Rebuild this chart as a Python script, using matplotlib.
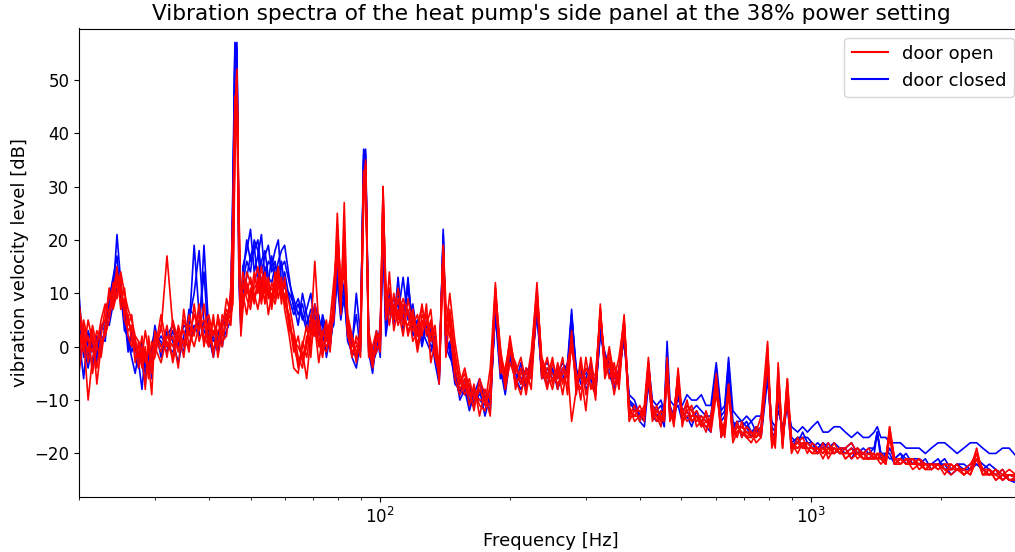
import matplotlib
matplotlib.use("Agg")
import matplotlib.pyplot as plt
from matplotlib.lines import Line2D

# Frequency grid [Hz]
freq = [20, 20.5, 21, 21.5, 22, 22.5, 23, 23.5, 24, 24.5, 25, 25.5, 26, 26.5, 27, 27.5, 28, 28.5, 29, 29.5,
        30, 31, 32, 33, 34, 35, 36, 37, 38, 39, 40, 41, 42, 43, 44, 45,
        45.5, 46, 46.5, 47, 47.5, 48, 49, 50, 51, 52, 53, 54, 55, 56, 57, 58, 59, 60, 61.5, 63, 64.5, 66,
        67.5, 69, 70.5, 72, 73.5, 75, 76.5, 78, 79.5, 81, 82.5, 84, 86, 88, 90, 91.5, 92.5, 94, 96, 98,
        100, 101.5, 103, 105, 107.5, 110, 113, 116, 119, 122, 125, 128, 131, 134, 137, 140, 142, 145, 149, 153,
        157, 161, 165, 170, 175, 180, 185, 190, 195, 200, 206, 212, 218, 224, 231, 237, 244, 251, 258, 265,
        272, 278, 285, 292, 300, 308, 316, 324, 332, 340, 349, 358, 368, 378, 389,
        400, 410, 419, 428, 438, 448, 456, 463, 470, 480, 491, 502, 515, 528, 542, 556, 570, 585, 602, 618,
        630, 643, 658, 673, 690, 708, 726, 745, 765, 792, 810, 825, 838, 858, 880, 900, 930, 955, 980, 1005,
        1035, 1065, 1095, 1130, 1165, 1200, 1240, 1280, 1320, 1360, 1400, 1423, 1450, 1490, 1520, 1560, 1610, 1660, 1720, 1780,
        1840, 1900, 1970, 2040, 2110, 2180, 2260, 2340, 2420, 2500, 2590, 2680, 2780, 2880, 3100]

# door open (red) spectra [dB]
open_1 = [3, -1, 5, 1, -4, 2, 7, 9, 11, 14, 10, 8, 5, 3, 1, -2, 2, -3, 0, -5, 1, 3, 17, 4, -1, 5, 2, 6, 3, 8, 1, 5, 0, 6, 4, 9,
          20, 44, 52, 18, 4, 8, 12, 9, 14, 10, 13, 8, 11, 7, 12, 15, 9, 10, 5, -1, 2, -3, 0, 6, 3, 1, -2, 4, 0, 8, 25, 10, 14, 4, 1, -2, 3, 30, 35, 1, -3, 2,
          2, 30, 8, 11, 5, 9, 4, 7, 1, 3, 8, 2, 5, -2, -5, 19, 3, 10, 1, -5, -8, -6, -10, -7, -11, -4, 12, -3, -6, 2,
          -5, -2, -7, -1, 11, -3, -6, -2, -8, -4, -6, 3, -9, -3, -7, -4, -10, 7, -5, 0, -6, -2, 5, -11, -14,
          -13, -11, -2, -12, -14, -12, -13, -2, -12, -14, -4, -13, -10, -14, -13, -15, -12, -15, -5, -16,
          -14, -7, -16, -15, -16, -17, -18, -16, -13, 1, -17, -18, -3, -18, -6, -19, -18, -17, -19, -19,
          -20, -19, -20, -18, -20, -19, -18, -20, -21, -20, -21, -20, -21, -22, -15, -21, -22, -21, -22, -22,
          -22, -23, -22, -23, -23, -22, -24, -23, -19, -24, -24, -23, -25, -24, -25]
open_2 = [-5, 2, -10, -2, 1, 4, 5, 10, 8, 12, 11, 6, 6, 1, -1, 0, -4, -1, -6, -2, 0, -3, 2, 0, 3, -2, 6, 2, 8, 0, 5, -1, 3, 4, 7, 5,
          12, 38, 49, 22, 8, 10, 6, 11, 8, 13, 9, 12, 6, 10, 8, 11, 13, 7, 2, -4, -5, 1, -2, 3, 16, 4, 0, -1, 3, 5, 18, 6, 27, 3, -1, 0, 1, 27, 33, -2, 0, 3,
          -1, 28, 12, 6, 8, 4, 7, 3, 5, -1, 4, 6, 1, 3, -7, 17, -2, 6, -4, -8, -6, -11, -7, -13, -8, -10, 10, 0, -8, -3,
          -6, -9, -4, -8, 9, -6, -2, -7, -4, -9, -3, 1, -5, -10, -2, -8, -6, 6, -2, -6, -3, -8, 4, -14, -12,
          -12, -14, -4, -11, -13, -15, -11, -4, -14, -12, -6, -14, -12, -11, -15, -14, -16, -13, -7, -15,
          -17, -9, -15, -17, -14, -17, -16, -18, -17, -3, -18, -16, -6, -19, -8, -18, -20, -18, -19, -20,
          -19, -21, -19, -20, -19, -21, -20, -19, -21, -21, -21, -20, -20, -22, -17, -22, -21, -22, -21, -22,
          -23, -22, -23, -22, -22, -23, -23, -24, -21, -24, -23, -25, -24, -25, -25]
open_3 = [6, 0, 2, -5, 0, 5, 8, 6, 12, 9, 13, 5, 3, 4, -3, 1, -1, -8, 2, -3, -2, 4, -2, 5, 1, 3, -1, 8, 1, 4, 6, 2, 5, 1, 2, 11,
          25, 47, 45, 14, 2, 7, 14, 12, 10, 7, 11, 14, 9, 12, 10, 13, 10, 12, 8, 3, -2, -4, 2, 0, 4, -3, 2, 5, -1, 10, 20, 8, 19, 6, 2, -3, 4, 33, 31, 0, -4, 1,
          3, 26, 5, 14, 3, 7, 2, 9, 4, 6, 2, 8, -3, 1, -4, 18, 5, 2, -2, -7, -4, -8, -12, -6, -9, -13, 11, -5, -4, 1,
          -8, -4, -9, -3, 12, -4, -8, -3, -6, -2, -9, 2, -7, -5, -12, -2, -8, 8, -6, -3, -9, -4, 6, -12, -13,
          -11, -13, -6, -14, -12, -13, -14, -3, -11, -15, -8, -12, -14, -13, -12, -14, -13, -16, -9, -14,
          -16, -8, -17, -14, -17, -15, -16, -17, -16, -2, -16, -19, -8, -17, -10, -20, -17, -19, -18, -19,
          -20, -18, -21, -19, -20, -20, -19, -21, -20, -21, -20, -21, -22, -21, -16, -22, -21, -22, -22, -21,
          -23, -22, -22, -23, -23, -22, -24, -23, -20, -23, -24, -23, -24, -24, -24]
open_4 = [0, 4, -3, 3, -7, 0, 3, 7, 9, 15, 7, 9, 2, 0, 2, -4, 0, -2, -3, -9, 3, 0, 1, -2, 4, 0, 4, 3, 5, 2, 0, 6, -2, 3, 9, 6,
          8, 35, 50, 26, 6, 12, 9, 7, 12, 15, 10, 9, 13, 8, 14, 9, 12, 8, 6, 0, -3, -1, -6, 2, 5, 0, 3, 1, 4, 7, 22, 12, 16, 2, 0, 1, -2, 28, 34, 3, -1, 0,
          0, 30, 9, 4, 10, 5, 8, 2, 6, 0, 6, 4, 7, -1, -3, 19, 8, 4, -6, -9, -7, -9, -8, -11, -12, -7, 9, -2, -7, -1,
          -3, -7, -6, -5, 10, -2, -5, -8, -3, -7, -4, -14, -8, -2, -9, -5, -7, 7, -4, -1, -5, -7, 5, -13, -11,
          -14, -12, -3, -13, -11, -14, -12, -5, -13, -13, -5, -15, -11, -12, -14, -13, -14, -14, -6, -17,
          -15, -7, -18, -16, -15, -16, -17, -15, -16, 0, -19, -17, -4, -18, -7, -19, -19, -18, -20, -18,
          -19, -20, -18, -20, -19, -19, -21, -20, -20, -19, -21, -20, -21, -21, -16, -21, -22, -21, -21, -23,
          -22, -23, -22, -24, -22, -23, -23, -24, -21, -23, -23, -25, -24, -23, -25]
open_5 = [8, 2, -1, 4, 0, -2, 4, 11, 7, 10, 14, 10, 7, 5, 2, 1, -3, 0, -5, 1, -1, 6, 0, 2, -4, 7, 0, 3, 6, 1, 4, -2, 6, 2, 5, 8,
          15, 40, 48, 20, 5, 14, 10, 13, 9, 11, 15, 10, 12, 9, 11, 14, 8, 13, 3, 2, -4, 0, 4, -2, 8, 2, -1, 2, 5, 12, 19, 9, 22, 5, 2, -1, 0, 31, 32, 2, -2, -1,
          1, 29, 10, 8, 6, 11, 5, 4, 7, 2, 5, 3, 4, 0, -6, 18, 2, 5, -3, -6, -9, -7, -9, -10, -10, -8, 11, -1, -5, 0,
          -7, -5, -5, -6, 10, -5, -4, -5, -7, -5, -5, 0, -6, -8, -4, -6, -5, 6, -3, -4, -4, -6, 5, -12, -12,
          -12, -13, -3, -12, -13, -14, -13, -3, -13, -13, -5, -14, -13, -13, -13, -14, -15, -14, -6, -15,
          -15, -8, -16, -16, -15, -16, -16, -17, -15, -1, -17, -17, -5, -18, -6, -18, -19, -18, -18, -19,
          -19, -20, -19, -19, -20, -20, -20, -19, -20, -20, -20, -21, -20, -21, -15, -21, -21, -22, -22, -21,
          -22, -22, -23, -22, -23, -23, -23, -22, -20, -23, -24, -24, -23, -25, -24]
open_6 = [-2, 5, 1, -1, 3, 1, 2, 5, 10, 13, 8, 11, 4, 6, 0, -1, -2, 3, -1, -2, 2, -1, 4, -3, 2, 1, 3, 0, 4, 5, 0, 3, 2, 0, 6, 4,
          10, 42, 51, 24, 9, 9, 11, 8, 11, 12, 8, 13, 10, 11, 9, 12, 11, 9, 4, 1, 0, -2, 1, 4, 2, 5, 1, 0, 2, 6, 23, 11, 17, 3, -2, 2, 0, 29, 34, -1, -2, 1,
          1, 27, 7, 9, 7, 6, 9, 6, 3, 4, 7, 5, 2, 4, -5, 18, 4, 7, -1, -7, -5, -9, -11, -8, -10, -11, 10, -4, -5, 1,
          -4, -6, -8, -4, 10, -3, -7, -6, -5, -6, -7, 1, -7, -4, -6, -7, -9, 7, -4, -2, -7, -5, 4, -13, -13,
          -13, -12, -4, -13, -12, -13, -14, -4, -12, -14, -6, -13, -12, -14, -13, -15, -14, -15, -7, -16,
          -16, -8, -17, -15, -16, -17, -17, -16, -17, -1, -18, -17, -6, -19, -8, -19, -18, -19, -19, -20,
          -20, -19, -20, -20, -19, -21, -20, -20, -21, -21, -21, -21, -21, -22, -16, -22, -22, -21, -23, -22,
          -23, -23, -22, -23, -24, -23, -24, -23, -20, -24, -23, -24, -25, -24, -24]

# door closed (blue) spectra [dB]
closed_1 = [10, -2, 1, -4, 2, -1, 4, 6, 10, 21, 12, 5, 1, -2, -5, -1, -3, -7, 0, -6, 2, 1, -1, 3, 0, 4, 3, 19, 6, 3, 1, 2, -1, 4, 5, 8,
            30, 57, 55, 12, 3, 15, 18, 22, 14, 17, 21, 13, 16, 15, 18, 20, 12, 14, 9, 6, 8, 5, 7, 10, 4, 2, 6, 3, 1, 5, 15, 7, 12, 3, -2, -4, 1, 37, 36, -1, -5, 2,
            1, 22, 6, 9, 4, 13, 3, 13, 2, 4, 1, 5, 3, -3, -7, 22, 0, -2, -4, -10, -8, -12, -9, -6, -10, -12, 8, -4, -9, -2,
            -6, -8, -6, -4, 6, -5, -7, -4, -8, -5, -3, 7, -6, -4, -8, -6, -9, 3, -3, -5, -8, -4, 1, -10, -12,
            -12, -13, -5, -12, -13, -12, -14, -4, -12, -14, -9, -13, -12, -14, -13, -13, -14, -14, -6, -14,
            -13, -5, -15, -14, -14, -13, -14, -13, -13, -5, -14, -15, -12, -15, -11, -15, -16, -15, -16, -15,
            -14, -16, -16, -15, -15, -16, -17, -16, -17, -17, -16, -15, -17, -17, -18, -18, -18, -19, -19, -19,
            -20, -19, -18, -18, -19, -20, -19, -18, -18, -19, -20, -20, -19, -19, -22]
closed_2 = [2, -6, 3, 0, -3, 2, 1, 9, 13, 17, 8, 6, -1, 2, 0, -3, -8, -1, -4, -1, 4, -2, 3, 1, -3, 2, 5, 10, 18, 4, 2, -2, 3, 0, 6, 7,
            22, 56, 57, 16, 5, 10, 13, 17, 19, 12, 16, 18, 13, 12, 15, 14, 16, 11, 10, 8, 4, 10, 6, 3, 8, 5, 4, -2, 2, 8, 12, 5, 10, 5, 0, 10, 2, 35, 37, 2, -3, -1,
            4, 20, 2, 7, 9, 6, 13, 5, 8, 2, 3, 1, -1, 2, -5, 21, -1, 1, -7, -8, -9, -7, -11, -8, -13, -9, 6, -6, -5, -1,
            -7, -3, -8, -2, 7, -6, -4, -6, -5, -3, -5, 6, -4, -7, -6, -3, -8, 2, -1, -4, -6, -5, 2, -9, -10,
            -13, -12, -3, -10, -11, -10, -12, 1, -10, -11, -10, -11, -9, -10, -10, -9, -11, -11, -3, -12,
            -11, -2, -12, -13, -14, -15, -14, -16, -15, -4, -17, -16, -8, -18, -9, -17, -18, -16, -18, -19,
            -18, -19, -18, -20, -19, -19, -18, -20, -20, -19, -19, -16, -20, -21, -19, -21, -20, -21, -22, -21,
            -22, -22, -21, -23, -23, -22, -22, -23, -21, -22, -23, -24, -23, -25, -26]
closed_3 = [-3, 1, -2, 2, -1, 3, 5, 4, 8, 11, 10, 3, 2, -1, 1, -2, 1, -4, -2, -3, 0, 2, 0, -1, 2, 1, 0, 4, 2, 19, 3, 1, 2, 1, 3, 5,
            28, 53, 56, 20, 7, 12, 16, 14, 20, 18, 11, 15, 12, 17, 13, 16, 18, 19, 13, 7, 9, 6, 3, 5, 2, 6, 1, 4, 0, 6, 14, 9, 11, 1, -1, -2, 3, 34, 35, 0, -2, 3,
            -2, 24, 4, 10, 6, 8, 5, 11, 3, 5, 0, 4, 2, 0, -6, 20, 1, 0, -5, -9, -6, -10, -10, -9, -8, -11, 7, -3, -6, 0,
            -4, -6, -5, -6, 8, -4, -3, -5, -7, -6, -4, 5, -5, -6, -5, -4, -7, 4, -2, -3, -7, -6, 3, -11, -11,
            -14, -15, -7, -13, -14, -13, -15, -2, -13, -12, -11, -14, -13, -15, -12, -14, -15, -16, -4, -17,
            -15, -4, -16, -14, -17, -15, -17, -15, -17, -6, -16, -17, -9, -17, -11, -19, -17, -19, -18, -18,
            -20, -18, -19, -19, -20, -19, -21, -19, -20, -21, -20, -16, -21, -20, -20, -22, -21, -20, -22, -22,
            -21, -23, -22, -22, -24, -23, -23, -22, -22, -23, -22, -23, -25, -24, -25]
closed_4 = [4, 0, -4, 1, -2, 4, 3, 7, 12, 15, 9, 8, 0, 3, -2, -4, -1, -5, -3, 0, 3, 0, 2, 4, 1, -1, 7, 6, 4, 14, 0, 3, 1, 5, 4, 10,
            25, 55, 54, 18, 4, 13, 20, 16, 18, 20, 14, 17, 19, 14, 16, 12, 15, 16, 12, 9, 6, 8, 4, 7, 6, 3, 5, 1, 3, 4, 13, 6, 9, 2, 1, 6, -1, 36, 34, 1, -4, 0,
            2, 23, 5, 8, 7, 10, 6, 12, 4, 3, 2, 3, 0, 1, -6, 21, 2, -1, -6, -9, -7, -11, -8, -10, -11, -10, 7, -5, -7, -1,
            -5, -7, -4, -5, 7, -5, -5, -5, -6, -4, -4, 6, -5, -5, -7, -5, -8, 3, -2, -4, -6, -5, 2, -10, -11,
            -13, -14, -4, -11, -12, -11, -13, -1, -11, -13, -8, -12, -11, -12, -11, -12, -13, -13, -4, -13,
            -12, -3, -14, -15, -15, -14, -16, -15, -16, -5, -15, -16, -10, -16, -10, -18, -17, -17, -17, -18,
            -19, -18, -19, -18, -19, -20, -19, -20, -19, -20, -19, -16, -20, -20, -21, -21, -20, -22, -21, -21,
            -22, -22, -22, -21, -23, -22, -23, -23, -22, -23, -24, -23, -24, -25, -25]

door_open = [open_1, open_2, open_3, open_4, open_5, open_6]
door_closed = [closed_1, closed_2, closed_3, closed_4]
for s in door_open + door_closed:
    assert len(s) == len(freq), (len(s), len(freq))

fig = plt.figure(figsize=(10.15, 5.52), dpi=100)
W, H = 1015, 552
ax = fig.add_axes([79 / W, 1 - 496.7 / H, (1023 - 79) / W, (496.7 - 28.5) / H])

for s in door_closed:
    ax.plot(freq, s, color="blue", lw=1.2)
for s in door_open:
    ax.plot(freq, s, color="red", lw=1.2)

ax.set_xscale("log")
ax.set_xlim(20, 3100)
ax.set_ylim(-28.1, 59.6)
ax.tick_params(labelsize=12)
ax.set_title("Vibration spectra of the heat pump's side panel at the 38% power setting", fontsize=15.6)
ax.set_xlabel("Frequency [Hz]", fontsize=13)
ax.set_ylabel("vibration velocity level [dB]", fontsize=13)
handles = [Line2D([], [], color="red", lw=1.5), Line2D([], [], color="blue", lw=1.5)]
ax.legend(handles, ["door open", "door closed"], loc="upper right", fontsize=13)

fig.savefig("out.png", dpi=100)
